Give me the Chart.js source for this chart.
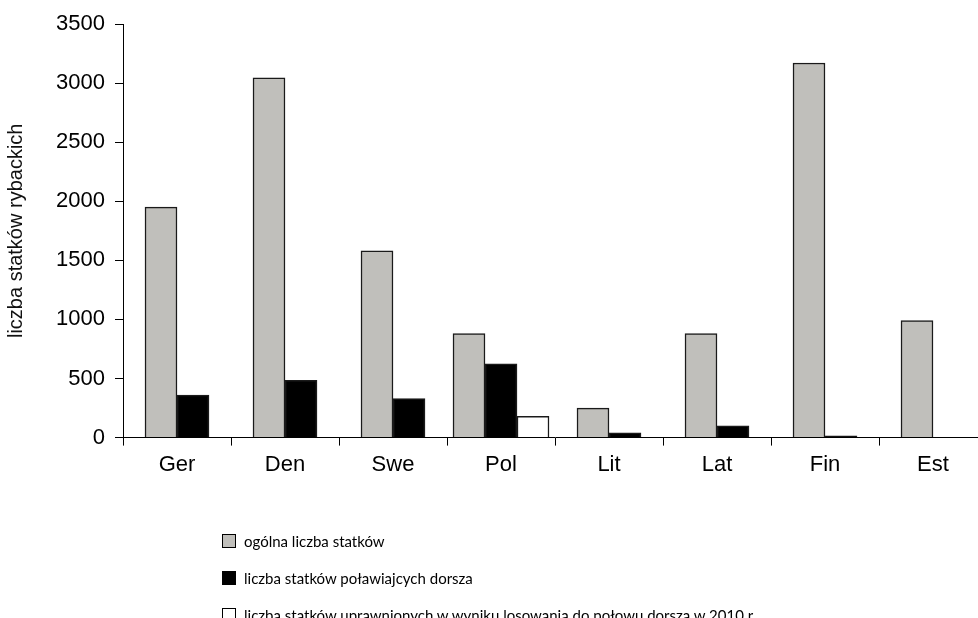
<!DOCTYPE html>
<html>
<head>
<meta charset="utf-8">
<script src="https://cdn.jsdelivr.net/npm/chart.js@4.4.1/dist/chart.umd.min.js"></script>
<style>
    html, body { margin: 0; padding: 0; background: #fff; overflow: hidden; }
    #wrap { position: relative; width: 978px; height: 618px; overflow: hidden; }
    #myChart { position: absolute; left: 0; top: 0; }
    #legend { position: absolute; left: 222px; top: 532px; font-family: Lato, sans-serif; font-size: 15px; color: #000; }
    #legend .item { height: 37px; display: flex; align-items: flex-start; white-space: nowrap; }
    #legend .box { width: 12px; height: 12px; border: 1px solid #000; margin-right: 8px; margin-top: 2px; flex: none; }
</style>
</head>
<body>
<div id="wrap">
    <canvas id="myChart" width="990" height="618"></canvas>
    <div id="legend"></div>
</div>
<script>
const countries = ['Ger', 'Den', 'Swe', 'Pol', 'Lit', 'Lat', 'Fin', 'Est'];
const totalVessels = [1950, 3045, 1580, 880, 250, 880, 3170, 990];
const codVessels = [360, 485, 330, 625, 40, 100, 15, 0];
const drawnVessels = [null, null, null, 180, null, null, null, null];
const yTicks = [0, 500, 1000, 1500, 2000, 2500, 3000, 3500];

const seriesNames = [
    'ogólna liczba statków',
    'liczba statków poławiajcych dorsza',
    'liczba statków uprawnionych w wyniku losowania do połowu dorsza w 2010 r.'
];

let ctx = document.getElementById('myChart');
const chart = new Chart(ctx, {
    type: 'bar',
    data: {
        labels: countries,
        datasets: [
            { label: seriesNames[0], data: totalVessels, backgroundColor: '#c0bfbb' },
            { label: seriesNames[1], data: codVessels, backgroundColor: '#000000' },
            { label: seriesNames[2], data: drawnVessels, backgroundColor: '#ffffff' }
        ]
    },
    options: {
        responsive: false,
        animation: false,
        devicePixelRatio: 1,
        skipNull: true,
        datasets: {
            bar: {
                barThickness: 32,
                borderColor: '#1a1a1a',
                borderWidth: 1.5
            }
        },
        layout: {
            padding: { left: 4, top: 24, right: 3, bottom: 134 }
        },
        plugins: {
            legend: { display: false },
            tooltip: { enabled: false }
        },
        scales: {
            x: {
                grid: {
                    offset: true,
                    drawOnChartArea: false,
                    tickLength: 8,
                    color: '#000'
                },
                border: { color: '#000', width: 1 },
                ticks: {
                    color: '#000',
                    padding: 6,
                    font: { family: 'Liberation Sans, Arial, sans-serif', size: 22 }
                }
            },
            y: {
                min: 0,
                max: 3500,
                afterFit: function (scale) { scale.width = 119; },
                afterBuildTicks: function (scale) {
                    scale.ticks = yTicks.map(v => ({ value: v }));
                },
                grid: {
                    drawOnChartArea: false,
                    tickLength: 8,
                    color: '#000'
                },
                border: { color: '#000', width: 1 },
                ticks: {
                    color: '#000',
                    padding: 10,
                    callback: function (value) { return String(value); },
                    font: { family: 'Liberation Sans, Arial, sans-serif', size: 22 }
                },
                title: {
                    display: true,
                    text: 'liczba statków rybackich',
                    color: '#111',
                    padding: { top: 0, bottom: 0 },
                    font: { family: 'Liberation Sans, Arial, sans-serif', size: 20 }
                }
            }
        }
    }
});

// legend built from the chart's own legend items, stacked vertically
const items = chart.options.plugins.legend.labels.generateLabels(chart);
const legendEl = document.getElementById('legend');
items.forEach(function (it) {
    const row = document.createElement('div');
    row.className = 'item';
    const box = document.createElement('span');
    box.className = 'box';
    box.style.background = it.fillStyle;
    const txt = document.createElement('span');
    txt.textContent = it.text;
    row.appendChild(box);
    row.appendChild(txt);
    legendEl.appendChild(row);
});
</script>
</body>
</html>
